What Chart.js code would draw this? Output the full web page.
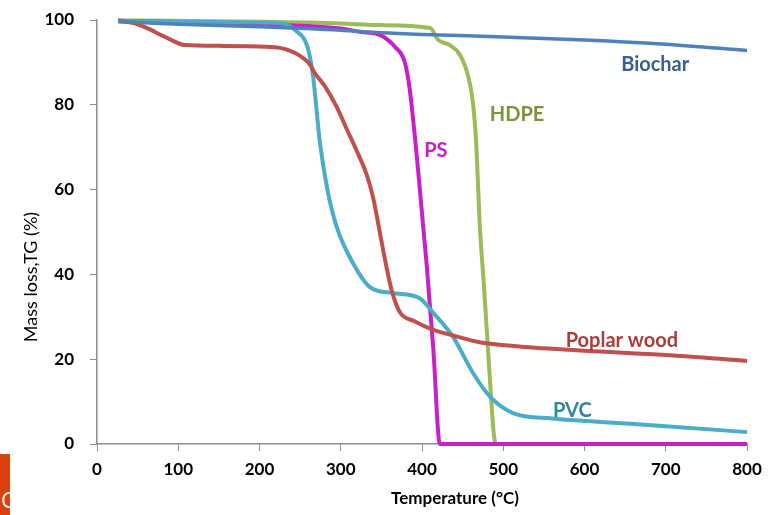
<!DOCTYPE html>
<html>
<head>
<meta charset="utf-8">
<script src="https://cdn.jsdelivr.net/npm/chart.js@4/dist/chart.umd.min.js"></script>
<style>
  body { margin: 0; background: #fff; }
  #wrap { position: relative; width: 776px; height: 515px; overflow: hidden; }
  #tab { position: absolute; left: 0; top: 454px; width: 10px; height: 61px; background: #d9430f; }
  #tab span { position: absolute; left: 1px; top: 30px; color: #fff; font: 22px "Open Sans", sans-serif; }
</style>
</head>
<body>
<div id="wrap">
  <canvas id="tgChart" width="776" height="515"></canvas>
  <div id="tab"><span>C</span></div>
</div>
<script>
// temperature (°C) / mass (%) for each sample
const biocharT = [26, 100, 200, 300, 350, 400, 500, 600, 700, 800];
const biocharM = [99.6, 99, 98.4, 97.6, 97, 96.6, 96, 95.3, 94.3, 92.8];

const poplarT = [26, 45, 59, 84, 108, 150, 219, 244, 262, 268, 280, 295, 308, 320, 332, 340, 348, 356, 363, 373, 390, 414, 440, 471, 520, 600, 700, 800];
const poplarM = [99.8, 99.3, 98.3, 96, 94.1, 93.9, 93.6, 92.2, 89.5, 87.5, 84.5, 79.5, 74, 69, 63.5, 58, 50, 42, 36, 31, 29, 26.9, 25.5, 24, 23, 22, 21, 19.6];

const pvcT = [26, 100, 200, 228, 244, 260, 266, 274, 283, 295, 315, 336, 364, 397, 414, 438, 463, 484, 512, 560, 620, 700, 800];
const pvcM = [99.8, 99.6, 99.4, 99.2, 97.6, 93, 86.6, 71.7, 60.6, 51.2, 42.7, 37, 35.6, 34.4, 30.9, 25.3, 16.7, 11.1, 7.3, 6, 5.2, 4.2, 2.8];

const psT = [26, 100, 200, 300, 324, 348, 367, 379, 385, 395, 406, 414, 422, 800];
const psM = [99.8, 99.5, 99, 98, 97.2, 96.5, 93.6, 89.9, 83.5, 65, 41.7, 22.2, 0, 0];

const hdpeT = [26, 100, 200, 300, 348, 410, 420, 434, 447, 457, 463, 467, 471, 476, 480, 484, 488, 490];
const hdpeM = [99.9, 99.8, 99.6, 99.2, 98.8, 98.1, 95.3, 94.1, 91.7, 86.6, 80, 70, 52, 38, 26, 14, 3, 0];

const xTicks = [0, 100, 200, 300, 400, 500, 600, 700, 800];
const yTicks = [0, 20, 40, 60, 80, 100];

// in-chart series labels (data coords)
const seriesLabels = [
    { text: 'Biochar', x: 687, y: 89.6, color: '#376092' },
    { text: 'HDPE', x: 517, y: 77.8, color: '#77933c' },
    { text: 'PS', x: 417, y: 69.3, color: '#c71fc6' },
    { text: 'Poplar wood', x: 646, y: 24.5, color: '#a83e3b' },
    { text: 'PVC', x: 585, y: 8.0, color: '#31859c' }
];

const pts = (xs, ys) => xs.map((x, i) => ({ x: x, y: ys[i] }));

function line(label, xs, ys, color, width) {
    return {
        label: label,
        data: pts(xs, ys),
        borderColor: color,
        borderWidth: width,
        pointRadius: 0,
        showLine: true,
        cubicInterpolationMode: 'monotone',
        clip: false
    };
}

const labelPlugin = {
    id: 'labels',
    afterDatasetsDraw(chart) {
        const ctx = chart.ctx;
        const xs = chart.scales.x, ys = chart.scales.y;
        ctx.save();
        ctx.textAlign = 'center';
        ctx.textBaseline = 'middle';
        ctx.font = 'bold 20px Lato';
        seriesLabels.forEach(l => {
            ctx.fillStyle = l.color;
            ctx.fillText(l.text, xs.getPixelForValue(l.x), ys.getPixelForValue(l.y));
        });
        // axis titles
        ctx.fillStyle = '#000';
        ctx.font = 'bold 17px Lato';
        ctx.fillText('Temperature (°C)', 455, 499);
        ctx.translate(31, 277);
        ctx.rotate(-Math.PI / 2);
        ctx.font = '18px Lato';
        ctx.fillText('Mass loss,TG (%)', 0, 0);
        ctx.restore();
    }
};

new Chart(document.getElementById('tgChart').getContext('2d'), {
    type: 'scatter',
    data: {
        datasets: [
            line('Biochar', biocharT, biocharM, '#4f81bd', 3.5),
            line('Poplar wood', poplarT, poplarM, '#c0504d', 4),
            line('PVC', pvcT, pvcM, '#4bacc6', 4),
            line('PS', psT, psM, '#c71fc9', 4),
            line('HDPE', hdpeT, hdpeM, '#9bbb59', 4)
        ]
    },
    options: {
        responsive: false,
        animation: false,
        layout: { padding: { top: 20, right: 29, left: 0, bottom: 0 } },
        plugins: { legend: { display: false }, tooltip: { enabled: false } },
        scales: {
            x: {
                type: 'linear',
                min: 0,
                max: 800,
                afterBuildTicks: s => { s.ticks = xTicks.map(v => ({ value: v })); },
                afterFit: s => { s.height = 71; },
                grid: { drawOnChartArea: false, drawTicks: true, tickLength: 7, color: '#8c8c8c' },
                border: { color: '#8c8c8c', width: 1.5 },
                ticks: { color: '#000', font: { family: 'Lato', size: 17, weight: 'bold' }, padding: 8, maxRotation: 0 }
            },
            y: {
                min: 0,
                max: 100,
                afterBuildTicks: s => { s.ticks = yTicks.map(v => ({ value: v })); },
                afterFit: s => { s.width = 97; s.paddingTop = 0; s.paddingBottom = 0; },
                grid: { drawOnChartArea: false, drawTicks: true, tickLength: 7, color: '#8c8c8c' },
                border: { color: '#8c8c8c', width: 1.5 },
                ticks: { color: '#000', font: { family: 'Lato', size: 17, weight: 'bold' }, padding: 16 }
            }
        }
    },
    plugins: [labelPlugin]
});
</script>
</body>
</html>
